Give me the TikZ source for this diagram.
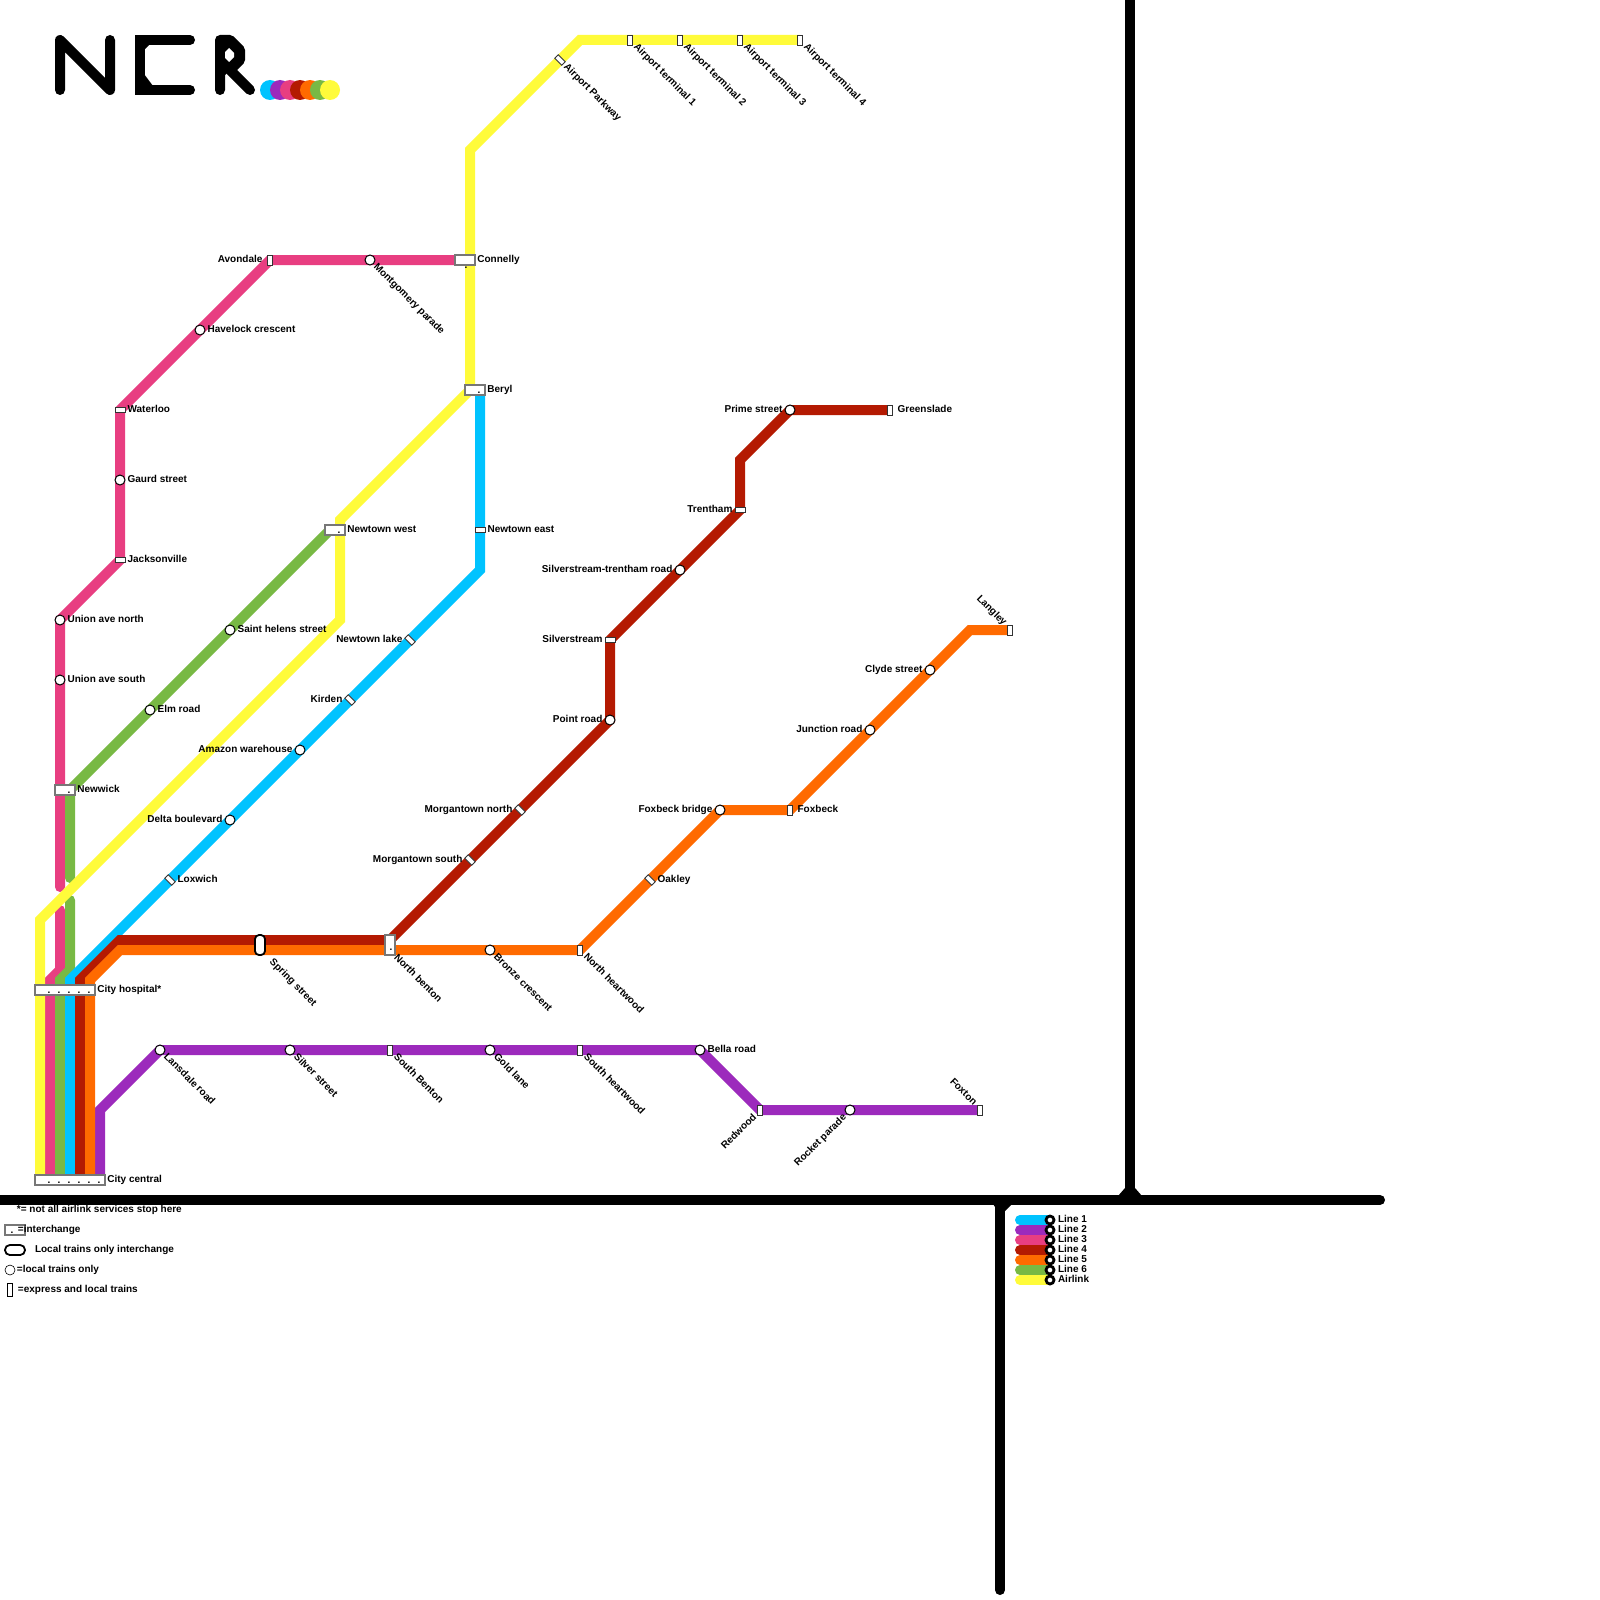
\documentclass[tikz,border=0pt]{standalone}
\usepackage{fontspec}
\setmainfont{Liberation Sans}
\definecolor{lineA}{HTML}{00C3FF}
\definecolor{lineB}{HTML}{9C2ABC}
\definecolor{lineC}{HTML}{E83E81}
\definecolor{lineD}{HTML}{B41A02}
\definecolor{lineE}{HTML}{FF6A00}
\definecolor{lineF}{HTML}{78B944}
\definecolor{lineG}{HTML}{FFFB3A}
\definecolor{boxgray}{HTML}{777777}
\tikzset{
 route/.style={line width=5pt,line join=miter,line cap=butt},
 routeend/.style={line width=5pt,line cap=round},
 wall/.style={line width=5pt,black,line cap=round},
 stcirc/.style={circle,draw=black,fill=white,line width=0.5pt,minimum size=5pt,inner sep=0pt},
 strect/.style={rectangle,draw=black!80,fill=white,line width=0.45pt,minimum width=2.5pt,minimum height=5pt,inner sep=0pt,outer sep=0pt},
 stbox/.style={rectangle,draw=boxgray,fill=white,line width=0.7pt,inner sep=0pt,outer sep=0pt},
 stlocal/.style={rectangle,rounded corners=2pt,draw=black,fill=white,line width=0.9pt,inner sep=0pt,outer sep=0pt},
 lbl/.style={font=\fontsize{5.0}{6}\selectfont\bfseries,inner sep=0pt,outer sep=0pt,text height=3.7pt,text depth=1pt},
 lblR/.style={lbl,anchor=west,xshift=3.8pt,yshift=0pt},
 lblL/.style={lbl,anchor=east,xshift=-3.8pt,yshift=0pt},
 lblB/.style={lbl,anchor=west,xshift=1.2pt,yshift=0pt},
 lblD/.style={lbl,anchor=west,xshift=2.6pt,yshift=-2.7pt,rotate=-45},
 lblUL/.style={lbl,anchor=east,xshift=-2.5pt,yshift=3pt,rotate=-45},
 lblDL/.style={lbl,anchor=east,xshift=-2.5pt,yshift=-3pt,rotate=45},
 dotmark/.style={font=\fontsize{5.0}{6}\selectfont\bfseries,inner sep=0pt,anchor=base},
}
\begin{document}
\begin{tikzpicture}[x=0.5pt,y=-0.5pt]
\useasboundingbox (0,0) rectangle (1600,1600);
\fill[white] (0,0) rectangle (1600,1600);

% walls
\coordinate (wA) at (0,1200); \coordinate (wB) at (1380,1200);
\coordinate (wC) at (1130,0); \coordinate (wD) at (1130,1200);
\coordinate (wE) at (1000,1200); \coordinate (wF) at (1000,1590);
\draw[line width=5pt,black] (wC) -- (wD);
\draw[wall] (wE) -- (wF);
\draw[wall] (wA) -- (wB);
\fill[black] (1118,1196) -- (1125,1188) -- (1135,1188) -- (1142,1196) -- cycle;
\fill[black] (1004,1212) -- (1012,1204) -- (993,1204) -- (995,1207) -- cycle;

% logo
\draw[line width=5pt,line cap=round,line join=round] (60,90) -- (60,40) -- (110,90) -- (110,40);
\draw[line width=5pt,line cap=round,line join=miter] (190,40) -- (140,40) -- (140,90) -- (190,90);
\fill[black] (144,74) -- (144,86) -- (153,86) -- cycle;
\fill[black] (144,44) -- (144,50) -- (150,44) -- cycle;
\draw[line width=5pt,line cap=round,line join=round] (220,90) -- (220,40) -- (230,40) -- (240,50) -- (240,60) -- (230,70) -- (250,90);
\fill[black] (220,40) -- (230,40) -- (240,50) -- (240,60) -- (220,80) -- cycle;
\fill[white] (225,52) -- (229,48) -- (234,53) -- (234,57) -- (229,62) -- (225,58) -- cycle;
\foreach \cx/\col in {270/lineA,280/lineB,290/lineC,300/lineD,310/lineE,320/lineF,330/lineG}
  \fill[\col] (\cx,90) circle[radius=10];

% coordinates
\foreach \nm/\px/\py in {
 cityC/70/1180,cityH/70/990,lox/170/880,delta/230/820,amaz/300/750,kird/350/700,nlake/410/640,ne/480/530,beryl/475/390,
 a1/70/1180,a2/70/980,a3/480/570,a4/480/390,
 b1/100/1180,b2/100/1110,lans/160/1050,silv/290/1050,sben/390/1050,gold/490/1050,shea/580/1050,bella/700/1050,red/760/1110,rock/850/1110,fox/980/1110,
 c1/50/1180,c2/50/980,c3/60/970,c4/60/910,c5/60/887,unN/60/620,unS/60/680,jack/120/560,gau/120/480,wat/120/410,hav/200/330,avo/270/260,mon/370/260,conn/465/260,c9/455/260,
 d1/80/1180,d2/80/980,d3/120/940,nben/390/945,d4/390/940,morS/470/860,morN/520/810,point/610/720,silvs/610/640,strd/680/570,tren/740/510,d5/740/460,prim/790/410,green/890/410,
 e1/90/1180,e2/90/980,e3/120/950,spr/260/945,bron/490/950,nhea/580/950,oak/650/880,foxb/720/810,foxk/790/810,junc/870/730,clyd/930/670,e4/970/630,lang/1010/630,
 f1/60/1180,f2/60/980,f3/70/970,f4/70/900,f5/70/878,newk/65/790,f6/70/790,elm/150/710,sthel/230/630,f7/330/530,nw/335/530,
 g1/40/1180,g2/40/920,g3/340/620,g4/340/520,g5/470/390,g6/470/150,g7/580/40,apw/560/60,t1/630/40,t2/680/40,t3/740/40,t4/800/40}
 {\coordinate (\nm) at (\px,\py);}

% routes
\draw[route,lineC,line cap=round] (c1) -- (c2) -- (c3) -- (c4);
\draw[route,lineC,line cap=round] (c5) -- (unN) -- (jack) -- (wat) -- (avo) -- (c9);
\draw[route,lineF,line cap=round] (f1) -- (f2) -- (f3) -- (f4);
\draw[route,lineF,line cap=round] (f5) -- (f6) -- (f7);
\draw[route,lineB] (b1) -- (b2) -- (lans) -- (bella) -- (red) -- (fox);
\draw[route,lineA] (a1) -- (a2) -- (a3) -- (a4);
\draw[route,lineD] (d1) -- (d2) -- (d3) -- (d4) -- (point) -- (silvs) -- (tren) -- (d5) -- (prim) -- (green);
\draw[route,lineE] (e1) -- (e2) -- (e3) -- (nhea) -- (foxb) -- (foxk) -- (e4) -- (lang);
\draw[route,lineG] (g1) -- (g2) -- (g3) -- (g4) -- (g5) -- (g6) -- (g7) -- (t4);

% circle stations
\foreach \nm in {delta,amaz,lans,silv,gold,bella,rock,unN,unS,gau,hav,mon,point,strd,prim,bron,foxb,junc,clyd,elm,sthel}
 \node[stcirc] (n\nm) at (\nm) {};
% rect stations on horizontal lines
\foreach \nm in {sben,shea,red,fox,avo,green,nhea,foxk,lang,t1,t2,t3,t4}
 \node[strect] (n\nm) at (\nm) {};
% rect stations on vertical lines
\foreach \nm in {ne,jack,wat,silvs,tren}
 \node[strect,rotate=90] (n\nm) at (\nm) {};
% rect stations on diagonals
\foreach \nm in {lox,kird,nlake,morS,morN,oak,apw}
 \node[strect,rotate=45] (n\nm) at (\nm) {};

% interchange boxes
\node[stbox,minimum width=30pt,minimum height=5pt] (ncityH) at (65,990) {};
\node[stbox,minimum width=35pt,minimum height=5pt] (ncityC) at (70,1180) {};
\node[stbox,minimum width=10pt,minimum height=5pt] (nnewk) at (newk) {};
\node[stbox,minimum width=10pt,minimum height=5pt] (nnw) at (nw) {};
\node[stbox,minimum width=10pt,minimum height=5pt] (nberyl) at (beryl) {};
\node[stbox,minimum width=10pt,minimum height=5pt] (nconn) at (conn) {};
\node[stbox,minimum width=5pt,minimum height=10pt] (nnben) at (nben) {};
\node[stlocal,minimum width=5pt,minimum height=10pt] (nspr) at (spr) {};
\foreach \px/\py in {49/993,59/993,69/993,79/993,89/993,49/1183,59/1183,69/1183,79/1183,89/1183,99/1183,69/793,339/533,479/393,466/268,391/950}
 \node[dotmark] at (\px,\py) {.};

% labels
\node[lblB] at (ncityH.east) {City hospital*};
\node[lblB] at (ncityC.east) {City central};
\node[lblR] at (lox) {Loxwich};
\node[lblL] at (delta) {Delta boulevard};
\node[lblL] at (amaz) {Amazon warehouse};
\node[lblL] at (kird) {Kirden};
\node[lblL] at (nlake) {Newtown lake};
\node[lblR] at (ne) {Newtown east};
\node[lblB] at (nberyl.east) {Beryl};
\node[lblD] at (lans) {Lansdale road};
\node[lblD] at (silv) {Silver street};
\node[lblD] at (sben) {South Benton};
\node[lblD] at (gold) {Gold lane};
\node[lblD] at (shea) {South heartwood};
\node[lblR] at (bella) {Bella road};
\node[lblDL] at (red) {Redwood};
\node[lblDL] at (rock) {Rocket parade};
\node[lblUL] at (fox) {Foxton};
\node[lblR] at (unN) {Union ave north};
\node[lblR] at (unS) {Union ave south};
\node[lblR] at (jack) {Jacksonville};
\node[lblR] at (gau) {Gaurd street};
\node[lblR] at (wat) {Waterloo};
\node[lblR] at (hav) {Havelock crescent};
\node[lblL] at (avo) {Avondale};
\node[lblD] at (mon) {Montgomery parade};
\node[lblB] at (nconn.east) {Connelly};
\node[lblD,xshift=5.8pt,yshift=-1.6pt] at (spr) {Spring street};
\node[lblD,xshift=2.3pt,yshift=-2pt] at (nben) {North benton};
\node[lblL] at (morS) {Morgantown south};
\node[lblL] at (morN) {Morgantown north};
\node[lblL] at (point) {Point road};
\node[lblL] at (silvs) {Silverstream};
\node[lblL] at (strd) {Silverstream-trentham road};
\node[lblL] at (tren) {Trentham};
\node[lblL] at (prim) {Prime street};
\node[lblR] at (green) {Greenslade};
\node[lblD] at (bron) {Bronze crescent};
\node[lblD] at (nhea) {North heartwood};
\node[lblR] at (oak) {Oakley};
\node[lblL] at (foxb) {Foxbeck bridge};
\node[lblR] at (foxk) {Foxbeck};
\node[lblL] at (junc) {Junction road};
\node[lblL] at (clyd) {Clyde street};
\node[lblUL] at (lang) {Langley};
\node[lblR] at (elm) {Elm road};
\node[lblR] at (sthel) {Saint helens street};
\node[lblB] at (nnewk.east) {Newwick};
\node[lblB] at (nnw.east) {Newtown west};
\node[lblD] at (apw) {Airport Parkway};
\node[lblD] at (t1) {Airport terminal 1};
\node[lblD] at (t2) {Airport terminal 2};
\node[lblD] at (t3) {Airport terminal 3};
\node[lblD] at (t4) {Airport terminal 4};

% left legend
\node[stbox,minimum width=10pt,minimum height=5pt] (kBox) at (15,1230) {};
\node[dotmark] at (12,1233) {.};
\node[lbl,anchor=west] (kNote) at (17,1210) {*= not all airlink services stop here};
\node[lbl,anchor=west] (kBoxT) at (18,1230) {=interchange};
\node[stlocal,minimum width=10pt,minimum height=5pt,rounded corners=2.4pt] (kLoc) at (15,1250) {};
\node[lbl,anchor=west] (kLocT) at (35,1250) {Local trains only interchange};
\node[circle,draw=black,fill=white,line width=0.3pt,minimum size=5pt,inner sep=0pt] (kCirc) at (10,1270) {};
\node[lbl,anchor=west] (kCircT) at (17,1270) {=local trains only};
\node[rectangle,draw=black,fill=white,line width=0.4pt,minimum width=2.5pt,minimum height=6.5pt,inner sep=0pt] (kRect) at (10,1290) {};
\node[lbl,anchor=west] (kRectT) at (18,1290) {=express and local trains};

% right legend
\foreach \yy/\col in {1220/lineA,1230/lineB,1240/lineC,1250/lineD,1260/lineE,1270/lineF,1280/lineG}{
 \coordinate (kS\yy) at (1020,\yy);
 \coordinate (kE\yy) at (1050,\yy);
 \draw[routeend,\col] (kS\yy) -- (kE\yy);
}
\foreach \yy/\txt in {1220/Line 1,1230/Line 2,1240/Line 3,1250/Line 4,1260/Line 5,1270/Line 6,1280/Airlink}{
 \node[circle,draw=black,fill=white,line width=1.4pt,minimum size=4pt,inner sep=0pt] (kC\yy) at (kE\yy) {};
 \node[lbl,anchor=west] (kT\yy) at (1058,\yy) {\txt};
}
\end{tikzpicture}
\end{document}
